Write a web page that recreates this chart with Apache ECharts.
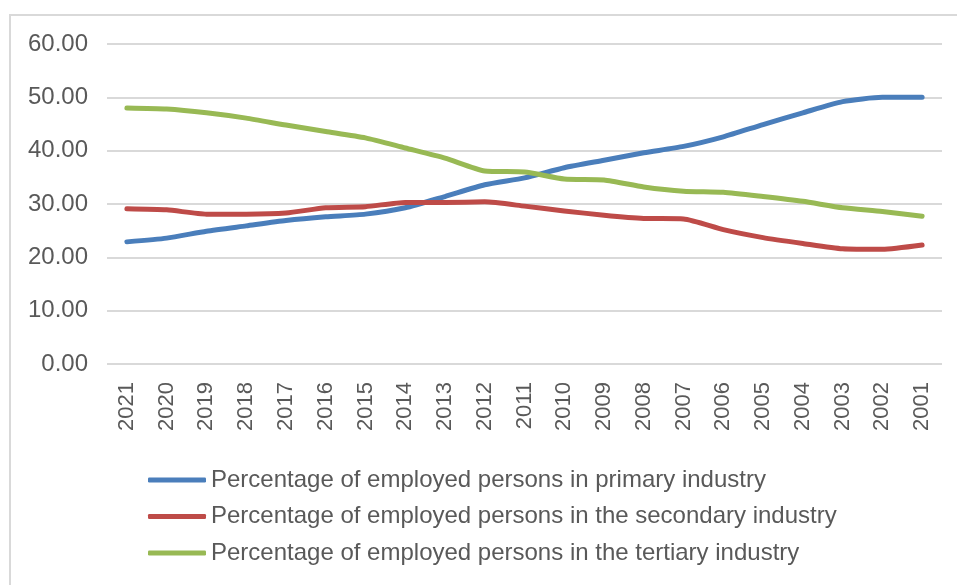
<!DOCTYPE html>
<html>
<head>
<meta charset="utf-8">
<script src="https://cdn.jsdelivr.net/npm/echarts@6/dist/echarts.min.js"></script>
<style>html,body{margin:0;padding:0;background:#fff;}#c{width:957px;height:585px;}</style>
</head>
<body>
<div id="c"></div>
<script>
const years = ['2021','2020','2019','2018','2017','2016','2015','2014','2013','2012','2011','2010','2009','2008','2007','2006','2005','2004','2003','2002','2001'];
const primary = [22.9, 23.6, 24.9, 25.9, 26.9, 27.6, 28.1, 29.3, 31.4, 33.6, 34.9, 36.8, 38.2, 39.6, 40.8, 42.6, 44.9, 47.1, 49.2, 50.0, 50.0];
const secondary = [29.1, 28.9, 28.1, 28.1, 28.3, 29.3, 29.5, 30.3, 30.3, 30.4, 29.6, 28.7, 27.9, 27.3, 27.2, 25.2, 23.7, 22.6, 21.6, 21.5, 22.3];
const tertiary = [48.0, 47.8, 47.1, 46.1, 44.8, 43.6, 42.4, 40.5, 38.6, 36.2, 36.0, 34.7, 34.5, 33.2, 32.4, 32.2, 31.4, 30.5, 29.3, 28.6, 27.7];
const names = ['Percentage of employed persons in primary industry','Percentage of employed persons in the secondary industry','Percentage of employed persons in the tertiary industry'];
const colors = ['#4a7ebb','#be4b48','#98b954'];

const chart = echarts.init(document.getElementById('c'), null, {renderer:'canvas'});
const font = 'Liberation Sans, Arial, sans-serif';
const mk = (i, d) => ({
  name: names[i], type: 'line', data: d, smooth: 0.2, showSymbol: false, symbol: 'none',
  lineStyle: {color: colors[i], width: 5, cap: 'round', join: 'round'},
  itemStyle: {color: colors[i]}
});
chart.setOption({
  animation: false,
  graphic: [{type:'rect', shape:{x:10, y:15, width:980, height:620}, style:{fill:'none', stroke:'#d9d9d9', lineWidth:2}, silent:true}],
  grid: {left: 107, right: 15, top: 44, bottom: 221},
  xAxis: {
    type: 'category', data: years, boundaryGap: true,
    axisLine: {show: false}, axisTick: {show: false},
    axisLabel: {rotate: 90, fontSize: 22, color: '#595959', fontFamily: font, margin: 18}
  },
  yAxis: {
    type: 'value', min: 0, max: 60, interval: 10,
    axisLabel: {formatter: v => v.toFixed(2), fontSize: 24, color: '#595959', fontFamily: font, margin: 19},
    splitLine: {lineStyle: {color: '#d9d9d9', width: 2}},
    axisLine: {show: false}, axisTick: {show: false}
  },
  legend: {
    orient: 'vertical', left: 143, top: 463, itemWidth: 58, itemHeight: 5, itemGap: 12.5,
    icon: 'roundRect',
    textStyle: {fontSize: 24, lineHeight: 24, color: '#595959', fontFamily: font},
    data: names
  },
  series: [mk(0, primary), mk(1, secondary), mk(2, tertiary)]
});
</script>
</body>
</html>
